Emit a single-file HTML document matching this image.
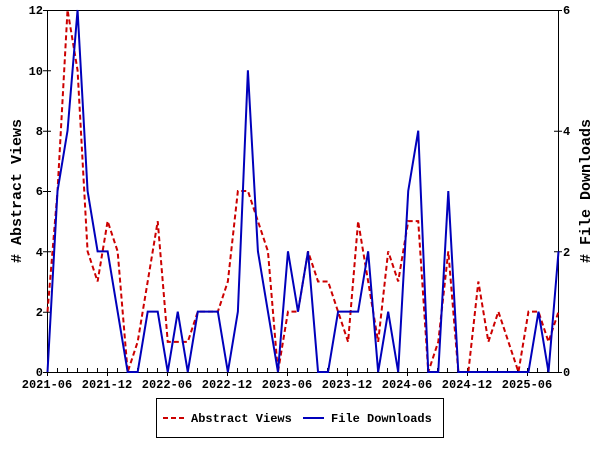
<!DOCTYPE html>
<html><head><meta charset="utf-8"><style>
body{margin:0;background:#fff}
svg text{font-family:"Liberation Mono",monospace;font-weight:bold;font-size:12px}
</style></head><body>
<svg width="600" height="450" viewBox="0 0 600 450" xmlns="http://www.w3.org/2000/svg">
<rect width="600" height="450" fill="#fff"/>
<g stroke="#000" stroke-width="1" fill="none">
<rect x="47.5" y="10.5" width="511" height="362"/>
<path d="M43 372.5h8M43 312.2h8M43 251.8h8M43 191.5h8M43 131.2h8M43 70.8h8M43 10.5h8"/>
<path d="M554 372.5h8M554 251.8h8M554 131.2h8M554 10.5h8"/>
</g>
<g stroke="#000" stroke-width="1">
<path d="M57.5 372v-4M67.5 372v-4M77.5 372v-4M87.5 372v-4M97.5 372v-4M117.5 372v-4M127.5 372v-4M137.5 372v-4M147.5 372v-4M157.5 372v-4M177.5 372v-4M187.5 372v-4M197.5 372v-4M207.5 372v-4M217.5 372v-4M237.5 372v-4M247.5 372v-4M257.5 372v-4M267.5 372v-4M277.5 372v-4M297.5 372v-4M307.5 372v-4M317.5 372v-4M327.5 372v-4M337.5 372v-4M357.5 372v-4M367.5 372v-4M377.5 372v-4M387.5 372v-4M397.5 372v-4M417.5 372v-4M427.5 372v-4M437.5 372v-4M447.5 372v-4M457.5 372v-4M477.5 372v-4M487.5 372v-4M497.5 372v-4M507.5 372v-4M517.5 372v-4M537.5 372v-4M547.5 372v-4"/>
<path d="M47.5 368v8M107.5 368v8M167.5 368v8M227.5 368v8M287.5 368v8M347.5 368v8M407.5 368v8M467.5 368v8M527.5 368v8"/>
</g>
<g text-anchor="end">
<text x="43" y="376">0</text><text x="43" y="316">2</text><text x="43" y="256">4</text><text x="43" y="195">6</text><text x="43" y="135">8</text><text x="43" y="75">10</text><text x="43" y="14">12</text>
</g>
<g>
<text x="563" y="376">0</text><text x="563" y="256">2</text><text x="563" y="135">4</text><text x="563" y="14">6</text>
</g>
<g text-anchor="middle">
<text x="47" y="388">2021-06</text><text x="107" y="388">2021-12</text><text x="167" y="388">2022-06</text><text x="227" y="388">2022-12</text><text x="287" y="388">2023-06</text><text x="347" y="388">2023-12</text><text x="407" y="388">2024-06</text><text x="467" y="388">2024-12</text><text x="527" y="388">2025-06</text>
</g>
<text transform="translate(21,191) rotate(-90)" text-anchor="middle" style="font-size:15px">&#35; Abstract Views</text>
<text transform="translate(590,191) rotate(-90)" text-anchor="middle" style="font-size:15px">&#35; File Downloads</text>
<g transform="translate(47.5,372) scale(10.02,-30.17)">
<polyline fill="none" stroke="#cc0000" stroke-width="2" stroke-dasharray="5,3" vector-effect="non-scaling-stroke" points="0,2 1,6 2,12 3,10 4,4 5,3 6,5 7,4 8,0 9,1 10,3 11,5 12,1 13,1 14,1 15,2 16,2 17,2 18,3 19,6 20,6 21,5 22,4 23,0 24,2 25,2 26,4 27,3 28,3 29,2 30,1 31,5 32,3 33,1 34,4 35,3 36,5 37,5 38,0 39,1 40,4 41,0 42,0 43,3 44,1 45,2 46,1 47,0 48,2 49,2 50,1 51,2"/>
</g>
<g transform="translate(47.5,372) scale(10.02,-60.33)">
<polyline fill="none" stroke="#0000bb" stroke-width="2" vector-effect="non-scaling-stroke" points="0,0 1,3 2,4 3,6 4,3 5,2 6,2 7,1 8,0 9,0 10,1 11,1 12,0 13,1 14,0 15,1 16,1 17,1 18,0 19,1 20,5 21,2 22,1 23,0 24,2 25,1 26,2 27,0 28,0 29,1 30,1 31,1 32,2 33,0 34,1 35,0 36,3 37,4 38,0 39,0 40,3 41,0 42,0 43,0 44,0 45,0 46,0 47,0 48,0 49,1 50,0 51,2"/>
</g>
<rect x="156.5" y="398.5" width="287" height="39" fill="none" stroke="#000"/>
<line x1="163" y1="418" x2="184" y2="418" stroke="#cc0000" stroke-width="2" stroke-dasharray="5,3"/>
<text x="191" y="422">Abstract Views</text>
<line x1="303" y1="418" x2="324" y2="418" stroke="#0000bb" stroke-width="2"/>
<text x="331" y="422">File Downloads</text>
</svg>
</body></html>
